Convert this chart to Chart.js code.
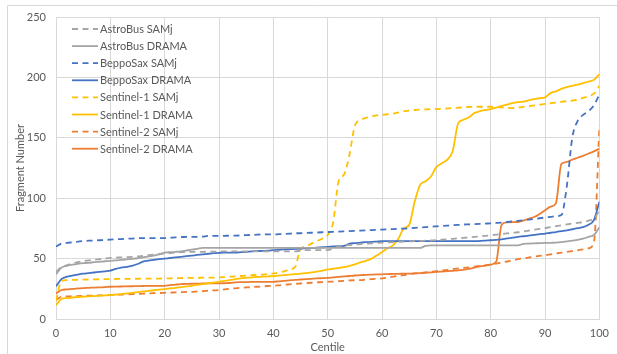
<!DOCTYPE html>
<html>
<head>
<meta charset="utf-8">
<script src="https://cdn.jsdelivr.net/npm/chart.js@4"></script>
<style>
  html, body { margin: 0; padding: 0; background: #fff; }
  #wrap { position: relative; width: 617px; height: 354px; }
</style>
</head>
<body>
<div id="wrap"><canvas id="c" width="617" height="354"></canvas></div>
<script>
const centiles = Array.from({length: 101}, (_, i) => i);

const seriesNames = ['AstroBus SAMj', 'AstroBus DRAMA', 'BeppoSax SAMj', 'BeppoSax DRAMA',
  'Sentinel-1 SAMj', 'Sentinel-1 DRAMA', 'Sentinel-2 SAMj', 'Sentinel-2 DRAMA'];

const astroBusSAMj = [39,43,44.5,46,47,47.8,48.5,49,49.5,50,50.6,50.8,51,51.2,51.4,51.8,52.3,52.8,53.3,53.8,
  54.2,54.6,55,55.3,55.5,55.5,55.5,55.6,55.7,55.8,55.9,56,56,56,56,56,56,56,56,56,
  56,56,56,56,56,56.5,57,57,57,57,57,58.5,60,60.8,61.2,61.6,62,62.3,62.6,62.9,
  63.2,63.4,63.6,63.8,64,64.2,64.4,64.6,64.8,65,65.2,65.6,66,66.4,66.8,67.2,67.6,68,68.4,68.8,
  69.3,69.8,70.3,70.8,71.3,71.8,72.5,73.2,73.9,74.6,75.3,76,76.8,77.6,78.3,79,79.6,80.3,81.5,83,90];

const astroBusDRAMA = [37,42.5,44,45,45.7,46.2,46.5,47,47.4,47.8,48.1,48.5,49,49.4,49.8,50.3,51,51.8,52.5,53.5,
  55,55.3,55.6,56,56.7,57.4,58.1,58.8,58.8,58.8,58.8,58.8,58.8,58.8,58.8,58.8,58.8,58.8,58.8,58.8,
  58.8,58.8,58.8,58.8,58.8,58.8,58.8,58.8,58.8,58.8,58.8,58.8,58.8,58.8,58.8,58.8,58.8,58.8,58.8,58.8,
  58.8,58.8,58.8,58.8,58.8,58.8,58.8,58.8,60.5,61,61,61,61,61,61,61,61,61,61,61,
  61,61,61,61,61,61,62.2,62.4,62.6,62.8,63,63.1,63.2,63.6,64.2,64.8,65.5,66.5,68,69.5,76];

const beppoSaxSAMj = [60,62.5,63,63.5,64,64.5,64.8,65,65.2,65.5,65.7,66,66.2,66.4,66.6,66.8,67,67,67,67,
  67,67.3,67.6,67.8,68,68,68,68.2,68.8,68.8,68.8,68.8,69,69,69.2,69.4,69.6,69.8,70,70,
  70,70.2,70.4,70.6,71,71,71.2,71.4,71.6,71.8,72,72.2,72.4,72.6,72.8,73,73.2,73.4,73.6,73.8,
  74,74.2,74.4,74.6,74.8,75,75.5,75.8,76,76.4,76.7,77,77.3,77.6,77.9,78.2,78.4,78.6,78.8,79,
  79.2,79.5,79.8,80.3,80.8,81.3,81.8,82.3,82.8,83.4,84,84.5,85,86,110,150,164,169,172,177,186];

const beppoSaxDRAMA = [27,33,35,36,36.8,37.5,38,38.5,39,39.5,40,41.5,42.5,43.2,44,45.5,47.5,48.3,49,49.5,
  50,50.5,51,51.5,52,52.5,53,53.5,54,54.5,54.8,55,55,55,55.3,55.6,56,56.2,56.4,56.6,
  57,57.3,57.6,57.8,58,58.2,58.5,58.8,59.1,59.4,59.7,60,60.3,60.5,62.4,62.8,63.2,63.6,63.8,64.1,
  64.4,64.4,64.4,64.4,64.4,64.4,64.4,64.4,64.4,64.4,64.4,64.4,64.4,64.4,64.4,64.4,64.4,64.4,64.6,64.9,
  65.2,65.5,66,66.7,67.3,68,68.5,69,69.6,70.2,70.7,71.4,72,72.7,73.4,74.3,75.2,76,78,82,97];

const sentinel1SAMj = [15,31.5,32.2,32.4,32.5,32.6,32.7,32.8,32.9,33,33,33.1,33.2,33.2,33.3,33.3,33.4,33.4,33.5,33.5,
  33.6,33.7,33.8,33.9,34,34,34.1,34.2,34.2,34.3,34.4,34.7,35,35.3,35.6,35.9,36.2,36.5,36.8,37.2,
  37.7,38.5,39.5,41,43,58,60,62.4,64.5,66.5,69.5,80,114,119.5,136,160,164.5,166.5,167.5,168.5,
  169,169.5,170,171,172,172.5,173,173.3,173.5,173.7,173.8,174,174.3,174.6,174.9,175.2,175.5,175.7,175.7,175.7,
  175.7,175.5,175.2,174.9,174.6,175,175.6,176.2,176.8,177.4,178,178.6,179.2,179.8,180.3,180.7,181.5,183,184.5,186.5,193];

const sentinel1DRAMA = [11.5,16.5,17.3,17.8,18.2,18.5,18.8,19,19.3,19.5,19.8,20.2,20.6,21.1,21.6,22.2,22.8,23.3,23.8,24.3,
  24.8,25.3,25.8,26.4,27,27.5,28.2,28.9,29.6,30.2,30.8,31.5,32.2,33,33.7,34.1,34.5,34.8,35,35.3,
  35.5,35.9,36.3,36.7,37.1,37.5,38,38.6,39.3,40.1,41,41.6,42.3,42.9,44,45.3,46.8,48.2,49.8,52.5,
  55.5,58.5,61,66.5,75,78,97,111,114,118,125.7,129,132,139,162,165,167,170.5,172,173,
  173.8,175,176.5,177.5,178.7,179.5,180,181,182,182.8,183.5,187,188.5,190.5,192,193,194,195.3,196.6,198,202.7];

const sentinel2SAMj = [15.7,18.4,18.7,18.9,19,19.2,19.3,19.4,19.5,19.6,19.8,20,20.2,20.4,20.6,20.8,21,21.2,21.4,21.5,
  21.7,21.9,22,22.2,22.4,22.5,22.8,23.1,23.4,23.7,23.9,24.5,25,25.4,25.8,26.1,26.4,26.7,27,27.3,
  27.5,27.9,28.3,28.7,29.1,29.4,29.7,30,30.3,30.6,30.8,31,31.3,31.6,31.9,32.1,32.2,32.6,33,33.3,
  33.6,34.3,35,35.7,36.4,37.1,37.7,38.1,38.6,39.1,39.6,40.2,40.7,41.3,41.8,42.3,42.8,43.4,43.9,44.4,
  45,45.8,46.7,47.6,48.5,49.5,50.2,50.9,51.6,52.2,52.8,53.5,54.2,54.9,55.5,56.2,56.9,57.6,58.5,64,160];

const sentinel2DRAMA = [21,24,24.5,25,25.3,25.6,25.8,26,26.2,26.4,26.7,26.8,26.9,27,27.1,27.2,27.3,27.4,27.5,27.5,
  27.5,28,28.5,28.9,29,29.2,29.3,29.4,29.5,29.5,29.5,29.6,29.8,30.3,30.5,30.6,30.7,30.8,30.8,30.8,
  30.8,31.2,31.6,32,32.4,32.7,33,33.3,33.6,33.8,34,34.4,34.8,35.2,35.6,36,36.3,36.5,36.7,36.9,
  37,37.2,37.3,37.4,37.5,37.6,37.7,38,38.3,38.6,39,39.3,39.6,39.9,40.2,40.8,41.5,42.5,43.5,44.2,
  45,47.3,78,80,80.2,80.3,81.5,83,84.4,87,90,93,96,128.4,130,132,133.5,135,137,138.8,141];

const yTicks = [0, 50, 100, 150, 200, 250];
const xTicks = [0, 10, 20, 30, 40, 50, 60, 70, 80, 90, 100];

const seriesValues = [astroBusSAMj, astroBusDRAMA, beppoSaxSAMj, beppoSaxDRAMA,
  sentinel1SAMj, sentinel1DRAMA, sentinel2SAMj, sentinel2DRAMA];
const seriesColors = ['#A5A5A5', '#A5A5A5', '#4472C4', '#4472C4', '#FFC000', '#FFC000', '#ED7D31', '#ED7D31'];
const DASH = [6, 4.5];

const FONT = 'Lato, "Open Sans", sans-serif';
const TEXT = '#595959';
const GRID = '#d9d9d9';

const datasets = seriesNames.map((name, i) => ({
  label: name,
  data: centiles.map((c, j) => ({x: c, y: seriesValues[i][j]})),
  borderColor: seriesColors[i],
  backgroundColor: seriesColors[i],
  borderWidth: 1.8,
  borderDash: name.endsWith('SAMj') ? DASH : [],
  pointRadius: 0,
  cubicInterpolationMode: 'monotone',
  fill: false
}));

const frameAndLegend = {
  id: 'frameAndLegend',
  beforeDraw(chart) {
    const ctx = chart.ctx;
    ctx.save();
    ctx.strokeStyle = GRID;
    ctx.lineWidth = 1;
    ctx.beginPath();
    ctx.moveTo(7.5, 354);
    ctx.lineTo(7.5, 5.5);
    ctx.lineTo(617, 5.5);
    ctx.stroke();
    ctx.restore();
  },
  afterDatasetsDraw(chart) {
    const ctx = chart.ctx;
    const area = chart.chartArea;
    ctx.save();
    ctx.font = '11px ' + FONT;
    ctx.textBaseline = 'middle';
    ctx.textAlign = 'left';
    chart.data.datasets.forEach((ds, i) => {
      const y = area.top + 12 + i * 17.1;
      const x0 = area.left + 16;
      ctx.strokeStyle = ds.borderColor;
      ctx.lineWidth = 1.8;
      ctx.setLineDash(ds.borderDash || []);
      ctx.beginPath();
      ctx.moveTo(x0, y);
      ctx.lineTo(x0 + 26, y);
      ctx.stroke();
      ctx.setLineDash([]);
      ctx.fillStyle = TEXT;
      ctx.fillText(ds.label, x0 + 28, y + 0.5);
    });
    ctx.restore();
  }
};

new Chart(document.getElementById('c'), {
  type: 'line',
  data: { datasets },
  options: {
    responsive: false,
    animation: false,
    layout: { padding: { left: 8, right: 12, top: 17, bottom: 0 } },
    plugins: { legend: { display: false }, tooltip: { enabled: false } },
    scales: {
      x: {
        type: 'linear', min: 0, max: 100,
        afterBuildTicks(scale) { scale.ticks = xTicks.map(v => ({value: v})); },
        afterFit(scale) { scale.height = 35; },
        grid: { color: GRID, drawTicks: false },
        border: { color: GRID },
        ticks: { padding: 8, color: TEXT, font: { family: FONT, size: 11 } },
        title: { display: true, text: 'Centile', color: TEXT, font: { family: FONT, size: 11 }, padding: { top: 0, bottom: 0 } }
      },
      y: {
        type: 'linear', min: 0, max: 250,
        afterBuildTicks(scale) { scale.ticks = yTicks.map(v => ({value: v})); },
        afterFit(scale) { scale.width = 48; },
        grid: { color: GRID, drawTicks: false },
        border: { color: GRID },
        ticks: { padding: 10, color: TEXT, font: { family: FONT, size: 11 } },
        title: { display: true, text: 'Fragment Number', color: TEXT, font: { family: FONT, size: 11 }, padding: { top: 6, bottom: 0 } }
      }
    }
  },
  plugins: [frameAndLegend]
});
</script>
</body>
</html>
